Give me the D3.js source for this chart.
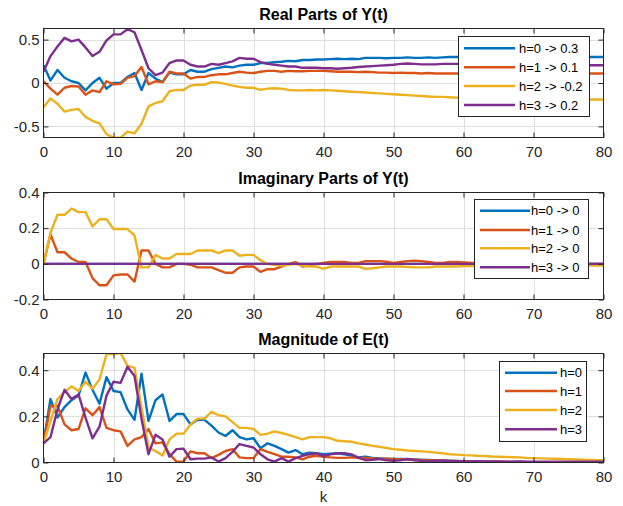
<!DOCTYPE html>
<html><head><meta charset="utf-8">
<script src="https://cdn.jsdelivr.net/npm/d3@7"></script>
<style>body{margin:0;background:#fff}svg{display:block}</style>
</head><body><svg id="c" width="623" height="506"></svg>
<script>
// ---------- DATA ----------
const k = d3.range(0, 81);
const xTicks = [0,10,20,30,40,50,60,70,80];

// Real parts of Y(t)
const realH0 = [0.205,0.03,0.15,0.06,0.02,0.0,-0.085,0.0,0.06,-0.065,0.0,0.0,0.07,0.115,-0.08,0.115,0.05,0.01,0.12,0.10,0.10,0.15,0.13,0.13,0.16,0.175,0.19,0.18,0.20,0.21,0.21,0.23,0.23,0.24,0.245,0.255,0.25,0.265,0.265,0.27,
 0.27,0.275,0.28,0.275,0.28,0.275,0.29,0.29,0.29,0.285,0.29,0.29,0.295,0.29,0.29,0.295,0.29,0.295,0.3,0.3,0.3,0.3,0.3,0.3,0.3,0.3,0.3,0.3,0.3,0.3,0.3,0.3,0.3,0.3,0.3,0.3,0.3,0.3,0.3,0.3,0.3];
const realH1 = [0.02,-0.065,-0.135,-0.055,-0.035,-0.04,-0.135,-0.085,-0.105,0.02,-0.015,-0.01,0.06,0.08,0.185,-0.015,0.02,0.01,0.13,0.11,0.11,0.05,0.07,0.07,0.09,0.10,0.10,0.115,0.13,0.12,0.115,0.13,0.14,0.14,0.13,0.14,0.135,0.135,0.14,0.14,
 0.14,0.135,0.13,0.13,0.13,0.125,0.13,0.125,0.12,0.12,0.115,0.12,0.115,0.115,0.11,0.115,0.11,0.11,0.11,0.11,0.11,0.11,0.11,0.11,0.11,0.11,0.11,0.11,0.11,0.11,0.11,0.11,0.11,0.11,0.11,0.11,0.11,0.11,0.11,0.11,0.11];
const realH2 = [-0.28,-0.18,-0.24,-0.33,-0.31,-0.30,-0.39,-0.435,-0.465,-0.59,-0.63,-0.63,-0.56,-0.58,-0.47,-0.27,-0.23,-0.21,-0.095,-0.08,-0.08,-0.03,-0.02,-0.02,0.01,0.005,-0.01,-0.03,-0.045,-0.055,-0.055,-0.08,-0.065,-0.06,-0.065,-0.08,-0.085,-0.085,-0.08,-0.085,
 -0.08,-0.085,-0.09,-0.095,-0.1,-0.105,-0.11,-0.115,-0.12,-0.125,-0.13,-0.135,-0.14,-0.145,-0.15,-0.155,-0.16,-0.16,-0.165,-0.17,-0.17,-0.17,-0.175,-0.175,-0.175,-0.18,-0.18,-0.18,-0.18,-0.185,-0.185,-0.185,-0.185,-0.185,-0.19,-0.19,-0.19,-0.19,-0.19,-0.19,-0.19];
const realH3 = [0.13,0.31,0.42,0.52,0.48,0.50,0.41,0.31,0.36,0.49,0.56,0.56,0.62,0.585,0.38,0.17,0.09,0.12,0.23,0.26,0.26,0.21,0.19,0.19,0.22,0.21,0.23,0.25,0.29,0.28,0.28,0.24,0.22,0.21,0.20,0.19,0.19,0.175,0.175,0.175,
 0.17,0.17,0.165,0.17,0.175,0.185,0.19,0.195,0.2,0.205,0.21,0.22,0.225,0.22,0.215,0.215,0.215,0.22,0.22,0.22,0.22,0.22,0.215,0.215,0.215,0.21,0.21,0.21,0.21,0.21,0.21,0.205,0.205,0.205,0.205,0.205,0.205,0.205,0.205,0.205,0.205];

// Imaginary parts of Y(t)
const imagH0 = k.map(() => 0);
const imagH1 = [0,0.165,0.065,0.065,0.03,0.01,0.01,-0.08,-0.12,-0.12,-0.065,-0.06,-0.06,-0.1,0.075,0.075,0,-0.02,-0.02,0,0,-0.005,-0.02,-0.02,-0.02,-0.035,-0.05,-0.05,-0.02,-0.015,-0.015,-0.045,-0.03,-0.03,-0.015,0,0.01,-0.015,-0.01,0,
 0.005,0.01,0.01,0.01,0.005,0.005,0.015,0.015,0.015,0.012,0.005,0.01,0.015,0.018,0.015,0.01,0.005,0.005,0.01,0.01,0.008,0.006,0.005,0.005,0.004,0.004,0.003,0.003,0.002,0.002,0.002,0.001,0.001,0.001,0.001,0,0,0,0,0,0];
const imagH2 = [0,0.175,0.275,0.275,0.31,0.29,0.29,0.21,0.25,0.25,0.195,0.195,0.195,0.16,-0.02,-0.02,0.05,0.03,0.03,0.055,0.055,0.055,0.075,0.075,0.075,0.06,0.075,0.075,0.045,0.05,0.05,0.02,0,-0.005,-0.01,-0.005,0,-0.01,-0.015,-0.015,
 -0.028,-0.015,-0.015,-0.015,-0.015,-0.015,-0.028,-0.025,-0.02,-0.015,-0.015,-0.015,-0.018,-0.02,-0.02,-0.02,-0.015,-0.015,-0.015,-0.015,-0.012,-0.012,-0.012,-0.012,-0.012,-0.011,-0.011,-0.011,-0.011,-0.01,-0.01,-0.01,-0.01,-0.01,-0.01,-0.01,-0.01,-0.01,-0.01,-0.01,-0.01];
const imagH3 = k.map(() => 0);

// Magnitude of E(t)
const magH0 = [0.087,0.275,0.195,0.24,0.27,0.29,0.39,0.315,0.255,0.37,0.31,0.305,0.23,0.185,0.385,0.18,0.27,0.295,0.18,0.21,0.21,0.165,0.185,0.185,0.16,0.13,0.115,0.14,0.11,0.10,0.105,0.062,0.083,0.072,0.058,0.043,0.054,0.036,0.043,0.04,
 0.036,0.038,0.04,0.035,0.03,0.022,0.025,0.02,0.018,0.017,0.015,0.015,0.014,0.013,0.012,0.011,0.01,0.009,0.008,0.007,0.005,0.005,0.004,0.004,0.003,0.002,0.002,0.002,0.002,0.001,0.001,0.001,0.001,0.001,0.001,0.001,0.001,0.001,0.001,0.001,0.001];
const magH1 = [0.087,0.245,0.245,0.165,0.14,0.145,0.235,0.205,0.24,0.15,0.14,0.135,0.072,0.10,0.11,0.145,0.083,0.087,0.036,0.004,0.004,0.048,0.04,0.04,0.019,0.033,0.05,0.058,0.022,0.019,0.019,0.058,0.046,0.036,0.025,0.025,0.022,0.014,0.025,0.029,
 0.025,0.022,0.02,0.02,0.022,0.02,0.02,0.018,0.017,0.016,0.014,0.014,0.013,0.012,0.01,0.01,0.009,0.008,0.007,0.007,0.006,0.005,0.005,0.004,0.004,0.003,0.003,0.002,0.002,0.002,0.001,0.001,0.001,0.001,0.001,0.001,0.001,0.001,0.001,0.001,0.001];
const magH2 = [0.083,0.18,0.275,0.305,0.33,0.31,0.35,0.32,0.36,0.47,0.47,0.475,0.42,0.41,0.24,0.065,0.05,0.03,0.10,0.125,0.125,0.165,0.19,0.19,0.22,0.205,0.20,0.175,0.15,0.15,0.145,0.12,0.125,0.135,0.128,0.12,0.11,0.10,0.11,0.11,
 0.11,0.105,0.094,0.092,0.09,0.083,0.078,0.072,0.068,0.063,0.058,0.055,0.052,0.05,0.048,0.046,0.043,0.04,0.036,0.034,0.032,0.031,0.029,0.028,0.026,0.025,0.024,0.023,0.022,0.02,0.019,0.018,0.017,0.016,0.015,0.014,0.013,0.012,0.011,0.01,0.01];
const magH3 = [0.083,0.11,0.23,0.315,0.275,0.295,0.195,0.105,0.155,0.29,0.35,0.345,0.415,0.375,0.19,0.036,0.12,0.10,0.025,0.058,0.06,0.014,0.017,0.017,0.022,0.004,0.019,0.046,0.08,0.072,0.065,0.036,0.014,0.004,0.019,0.004,0.019,0.029,0.036,0.04,
 0.029,0.035,0.04,0.04,0.035,0.02,0.01,0.012,0.015,0.01,0.007,0.01,0.015,0.01,0.007,0.006,0.007,0.008,0.006,0.006,0.006,0.005,0.006,0.005,0.005,0.005,0.004,0.004,0.005,0.004,0.004,0.003,0.004,0.003,0.003,0.003,0.004,0.003,0.003,0.003,0.004];

const colors = ["#0072BD","#D95319","#EDB120","#7E2F8E"];

const panels = [
  {title:"Real Parts of Y(t)", series:[realH0,realH1,realH2,realH3],
   labels:["h=0 -> 0.3","h=1 -> 0.1","h=2 -> -0.2","h=3 -> 0.2"],
   yDomain:[-0.628,0.628], yTicks:[-0.5,0,0.5], top:28.3, bottom:136.7,
   leg:{x:458.5,y:36.5,w:131,h:80,lineX0:464,lineX1:515,textX:519,rows:[48.3,67.3,86,105]}},
  {title:"Imaginary Parts of Y(t)", series:[imagH0,imagH1,imagH2,imagH3],
   labels:["h=0 -> 0","h=1 -> 0","h=2 -> 0","h=3 -> 0"],
   yDomain:[-0.2,0.4], yTicks:[-0.2,0,0.2,0.4], top:191.7, bottom:299.3,
   leg:{x:474.5,y:199.5,w:114,h:79,lineX0:480,lineX1:530,textX:531,rows:[210.7,230,248.3,267.3]}},
  {title:"Magnitude of E(t)", series:[magH0,magH1,magH2,magH3],
   labels:["h=0","h=1","h=2","h=3"],
   yDomain:[0,0.4725], yTicks:[0,0.2,0.4], top:353.3, bottom:461.7,
   leg:{x:499.5,y:361.5,w:87,h:80,lineX0:505,lineX1:557,textX:560,rows:[372.7,391,410,429.3]}}
];

// ---------- DRAW ----------
const svg = d3.select("#c");
const L = 43.5, R = 603.5;
const x = d3.scaleLinear().domain([0,80]).range([L,R]);
const font = "'Liberation Sans', Arial, Helvetica, sans-serif";
const axisCol = "#262626";

panels.forEach((p,i) => {
  const top = Math.round(p.top)+0.5, bot = Math.round(p.bottom)+0.5;
  const y = d3.scaleLinear().domain(p.yDomain).range([bot, top]);
  const g = svg.append("g");
  // grid
  g.append("g").selectAll("line").data(xTicks.slice(1,-1)).join("line")
    .attr("x1",d=>Math.round(x(d))+0.5).attr("x2",d=>Math.round(x(d))+0.5)
    .attr("y1",top).attr("y2",bot).attr("stroke","#dfdfdf").attr("stroke-width",1);
  g.append("g").selectAll("line").data(p.yTicks.filter(t=>y(t)>top+1 && y(t)<bot-1)).join("line")
    .attr("x1",L).attr("x2",R)
    .attr("y1",d=>Math.round(y(d))+0.5).attr("y2",d=>Math.round(y(d))+0.5)
    .attr("stroke","#dfdfdf").attr("stroke-width",1);
  // clip
  const cid = "clip"+i;
  svg.append("defs").append("clipPath").attr("id",cid).append("rect")
    .attr("x",L).attr("y",top).attr("width",R-L).attr("height",bot-top);
  const line = d3.line().x((d,j)=>x(k[j])).y(d=>y(d));
  g.append("g").attr("clip-path",`url(#${cid})`).selectAll("path").data(p.series).join("path")
    .attr("d",line).attr("fill","none").attr("stroke",(d,j)=>colors[j])
    .attr("stroke-width",2.4).attr("stroke-linejoin","round");
  // axes (ticks inside)
  const ax = g.append("g").attr("transform",`translate(0,${bot})`)
    .call(d3.axisBottom(x).tickValues(xTicks).tickSize(-5).tickPadding(8).tickFormat(d=>String(d)));
  const axT = g.append("g").attr("transform",`translate(0,${top})`)
    .call(d3.axisTop(x).tickValues(xTicks).tickSize(-5).tickFormat(""));
  const ay = g.append("g").attr("transform",`translate(${L},0)`)
    .call(d3.axisLeft(y).tickValues(p.yTicks).tickSize(-5).tickPadding(4).tickFormat(d=>String(d)));
  const ayR = g.append("g").attr("transform",`translate(${R},0)`)
    .call(d3.axisRight(y).tickValues(p.yTicks).tickSize(-5).tickFormat(""));
  [ax,axT,ay,ayR].forEach(a=>{
    a.selectAll(".domain").remove();
    a.selectAll(".tick line").attr("stroke",axisCol);
    a.selectAll("text").attr("font-family",font).attr("font-size","15px").attr("fill",axisCol);
  });
  ax.selectAll("text").attr("dy",null).attr("y",19).attr("dominant-baseline","auto");
  g.append("rect").attr("x",L).attr("y",top).attr("width",R-L).attr("height",bot-top)
    .attr("fill","none").attr("stroke",axisCol).attr("stroke-width",1);
  // title
  g.append("text").attr("x",(L+R)/2).attr("y",top-8.5).attr("text-anchor","middle")
    .attr("font-family",font).attr("font-weight","bold").attr("font-size","16px").attr("fill","#000")
    .text(p.title);
  // legend
  const lg = g.append("g");
  lg.append("rect").attr("x",p.leg.x).attr("y",p.leg.y).attr("width",p.leg.w).attr("height",p.leg.h)
    .attr("fill","#fff").attr("stroke",axisCol).attr("stroke-width",1);
  p.labels.forEach((lab,j)=>{
    lg.append("line").attr("x1",p.leg.lineX0).attr("x2",p.leg.lineX1)
      .attr("y1",p.leg.rows[j]).attr("y2",p.leg.rows[j]).attr("stroke",colors[j]).attr("stroke-width",2.4);
    lg.append("text").attr("x",p.leg.textX).attr("y",p.leg.rows[j]).attr("dy","0.36em")
      .attr("font-family",font).attr("font-size","13px").attr("fill","#000").text(lab);
  });
});
// x label
svg.append("text").attr("x",(L+R)/2).attr("y",502).attr("text-anchor","middle")
  .attr("font-family",font).attr("font-size","15px").attr("fill",axisCol).text("k");
</script></body></html>
